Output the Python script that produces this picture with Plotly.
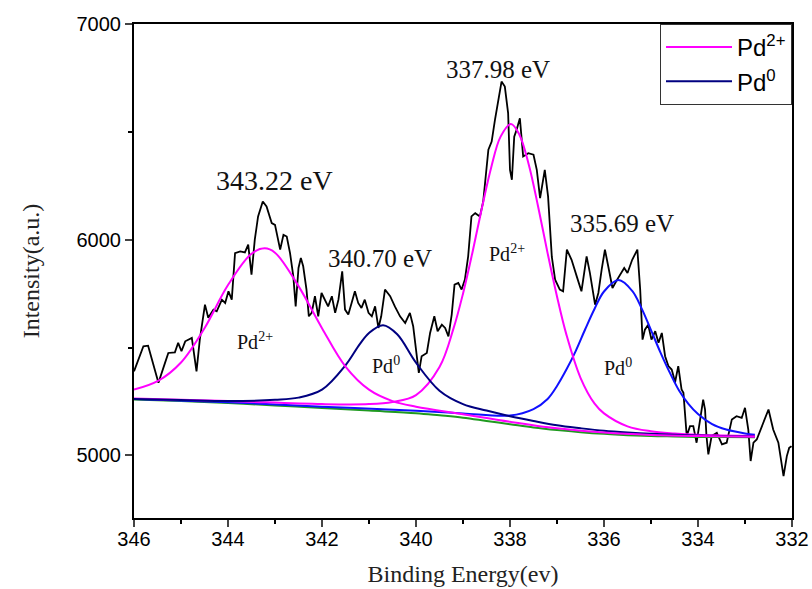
import plotly.graph_objects as go

# ---- measured spectrum (binding energy, intensity) ----
E_data = [346.00, 345.80, 345.70, 345.48, 345.34, 345.27, 345.13, 345.06, 344.99, 344.91,
          344.77, 344.67, 344.60, 344.49, 344.42, 344.31, 344.24, 344.13, 344.06, 343.99,
          343.92, 343.85, 343.74, 343.64, 343.57, 343.50, 343.43, 343.36, 343.26, 343.18,
          343.07, 343.00, 342.89, 342.82, 342.75, 342.68, 342.61, 342.56, 342.50, 342.45,
          342.40, 342.33, 342.28, 342.22, 342.15, 342.08, 342.01, 341.94, 341.87, 341.79,
          341.72, 341.65, 341.57, 341.51, 341.44, 341.37, 341.30, 341.23, 341.16, 341.09,
          341.01, 340.94, 340.87, 340.80, 340.74, 340.66, 340.55, 340.45, 340.34, 340.23,
          340.13, 340.06, 339.99, 339.94, 339.88, 339.77, 339.70, 339.61, 339.54, 339.45,
          339.38, 339.31, 339.24, 339.18, 339.10, 339.03, 338.96, 338.89, 338.82, 338.74,
          338.64, 338.57, 338.46, 338.39, 338.32, 338.25, 338.18, 338.11, 338.04, 338.00,
          337.96, 337.91, 337.86, 337.79, 337.72, 337.61, 337.50, 337.43, 337.36, 337.26,
          337.19, 337.11, 337.04, 336.94, 336.87, 336.79, 336.69, 336.58, 336.48, 336.37,
          336.30, 336.19, 336.12, 336.05, 335.98, 335.91, 335.82, 335.72, 335.64, 335.57,
          335.50, 335.40, 335.29, 335.23, 335.18, 335.13, 335.06, 334.99, 334.91, 334.84,
          334.77, 334.70, 334.63, 334.56, 334.52, 334.49, 334.42, 334.35, 334.31, 334.28,
          334.24, 334.17, 334.10, 334.03, 333.96, 333.89, 333.85, 333.82, 333.78, 333.71,
          333.60, 333.49, 333.39, 333.32, 333.28, 333.18, 333.07, 333.00, 332.93, 332.88,
          332.82, 332.75, 332.64, 332.50, 332.40, 332.29, 332.18, 332.11, 332.06, 332.01]
I_data = [5390, 5506, 5509, 5337, 5429, 5475, 5478, 5522, 5483, 5529,
          5545, 5390, 5537, 5699, 5638, 5676, 5668, 5722, 5707, 5761,
          5722, 5938, 5946, 5941, 5977, 5838, 6000, 6108, 6177, 6154,
          6077, 6069, 5954, 6023, 6015, 5938, 5830, 5691, 5869, 5915,
          5877, 5769, 5645, 5661, 5738, 5645, 5753, 5722, 5691, 5738,
          5661, 5722, 5853, 5676, 5653, 5707, 5761, 5707, 5684, 5722,
          5661, 5645, 5691, 5591, 5645, 5769, 5738, 5691, 5645, 5614,
          5661, 5599, 5460, 5383, 5460, 5475, 5568, 5645, 5576, 5606,
          5591, 5552, 5653, 5792, 5800, 5769, 5815, 5923, 6108, 6123,
          6108, 6177, 6417, 6455, 6556, 6640, 6733, 6710, 6587, 6324,
          6278, 6478, 6509, 6563, 6386, 6401, 6394, 6324, 6193, 6324,
          6201, 5920, 5815, 5769, 5761, 5954, 5907, 5830, 5761, 5923,
          5846, 5699, 5753, 5861, 5954, 5877, 5776, 5815, 5846, 5869,
          5846, 5907, 5954, 5769, 5537, 5583, 5606, 5537, 5576, 5522,
          5568, 5460, 5414, 5398, 5367, 5337, 5414, 5306, 5290, 5199,
          5090, 5136, 5136, 5059, 5167, 5259, 5213, 5090, 5005, 5090,
          5105, 5051, 5059, 5120, 5167, 5182, 5174, 5221, 5120, 4974,
          5059, 5074, 5136, 5213, 5120, 5059, 4904, 4997, 5035, 5043]

# ---- background ----
E_bg = [346.0, 345.0, 344.0, 343.0, 342.0, 341.0, 340.0, 339.5, 339.0, 338.5, 338.0,
        337.5, 337.0, 336.5, 336.0, 335.5, 335.0, 334.5, 334.0, 333.5, 332.79]
I_bg = [5259, 5252, 5243, 5232, 5220, 5208, 5196, 5186, 5175, 5160, 5145,
        5130, 5118, 5108, 5100, 5094, 5090, 5088, 5086, 5085, 5084]

# ---- Pd2+ component at 343.22 eV ----
E_p1 = [346.0, 345.5, 345.0, 344.5, 344.0, 343.5, 343.22, 343.0, 342.5, 342.0, 341.5,
        341.0, 340.5, 340.0, 339.0, 338.0, 337.0, 336.0, 335.0, 334.0, 332.79]
I_p1 = [5305, 5344, 5431, 5590, 5790, 5935, 5960, 5940, 5785, 5590, 5412,
        5305, 5252, 5226, 5191, 5156, 5126, 5106, 5095, 5090, 5087]

# ---- Pd0 component at 340.70 eV ----
E_p2 = [346.0, 345.0, 344.0, 343.0, 342.5, 342.0, 341.5, 341.2, 341.0, 340.7, 340.4,
        340.0, 339.5, 339.0, 338.5, 338.0, 337.5, 337.0, 336.5, 336.0, 335.5, 335.0,
        334.0, 332.79]
I_p2 = [5262, 5257, 5252, 5258, 5268, 5305, 5418, 5515, 5568, 5604, 5562,
        5430, 5300, 5238, 5208, 5182, 5160, 5140, 5126, 5114, 5106, 5100,
        5092, 5088]

# ---- Pd2+ component at 337.98 eV ----
E_p3 = [346.0, 344.0, 342.0, 341.0, 340.5, 340.0, 339.5, 339.2, 339.0, 338.8, 338.6,
        338.4, 338.2, 337.98, 337.8, 337.6, 337.4, 337.2, 337.0, 336.8, 336.5, 336.2,
        336.0, 335.5, 335.0, 334.5, 334.0, 333.5, 332.79]
I_p3 = [5264, 5252, 5238, 5238, 5248, 5280, 5410, 5590, 5750, 5940, 6145,
        6335, 6478, 6536, 6487, 6348, 6152, 5938, 5737, 5560, 5360, 5240,
        5195, 5135, 5112, 5102, 5096, 5093, 5090]

# ---- Pd0 component at 335.69 eV ----
E_p4 = [346.0, 344.0, 342.0, 340.0, 339.0, 338.0, 337.5, 337.2, 337.0, 336.8, 336.6,
        336.4, 336.2, 336.0, 335.69, 335.4, 335.2, 335.0, 334.8, 334.6, 334.4, 334.2,
        334.0, 333.7, 333.4, 333.0, 332.79]
I_p4 = [5262, 5247, 5226, 5207, 5195, 5185, 5215, 5262, 5322, 5398, 5485,
        5585, 5680, 5760, 5813, 5763, 5682, 5581, 5478, 5384, 5300, 5238,
        5192, 5145, 5120, 5102, 5096]

MAGENTA = "#ff00ff"
NAVY = "#000080"
BLUE = "#1010ff"
GREEN = "#1f9a1f"

fig = go.Figure()
fig.add_trace(go.Scatter(x=E_data, y=I_data, mode="lines", line=dict(color="black", width=1.8),
                         showlegend=False))
fig.add_trace(go.Scatter(x=E_bg, y=I_bg, mode="lines", line=dict(color=GREEN, width=2, shape="spline"),
                         showlegend=False))
fig.add_trace(go.Scatter(x=E_p4, y=I_p4, mode="lines", line=dict(color=BLUE, width=2, shape="spline"),
                         showlegend=False))
fig.add_trace(go.Scatter(x=E_p3, y=I_p3, mode="lines", line=dict(color=MAGENTA, width=2, shape="spline"),
                         showlegend=False))
fig.add_trace(go.Scatter(x=E_p2, y=I_p2, mode="lines", line=dict(color=NAVY, width=2, shape="spline"),
                         name="Pd<sup>0</sup>", legendrank=2))
fig.add_trace(go.Scatter(x=E_p1, y=I_p1, mode="lines", line=dict(color=MAGENTA, width=2, shape="spline"),
                         name="Pd<sup>2+</sup>", legendrank=1))

serif = "Liberation Serif, Times New Roman, serif"
sans = "Liberation Sans, Arial, sans-serif"

ann = []
def label(x, y, text, size):
    ann.append(dict(x=x, y=y, xref="x", yref="y", text=text, showarrow=False,
                    font=dict(family=serif, size=size, color="#111111")))

label(343.02, 6273, "343.22 eV", 28)
label(340.77, 5912, "340.70 eV", 25)
label(338.26, 6787, "337.98 eV", 25)
label(335.62, 6074, "335.69 eV", 25)
label(343.43, 5532, "Pd<sup>2+</sup>", 20)
label(340.64, 5417, "Pd<sup>0</sup>", 20)
label(338.06, 5940, "Pd<sup>2+</sup>", 20)
label(335.70, 5412, "Pd<sup>0</sup>", 20)

fig.update_layout(
    width=812, height=589,
    margin=dict(l=134, r=20, t=24, b=71),
    paper_bgcolor="white", plot_bgcolor="white",
    annotations=ann,
    showlegend=True,
    legend=dict(x=1, y=1, xanchor="right", yanchor="top", bgcolor="white",
                bordercolor="#333333", borderwidth=1, itemwidth=66,
                font=dict(family=sans, size=24, color="black"), tracegroupgap=0),
    xaxis=dict(range=[346, 332], dtick=2, tick0=332, ticks="outside", ticklen=7, tickwidth=1.5,
               showline=True, linewidth=2, linecolor="black", mirror=True, showgrid=False,
               zeroline=False, automargin=False, tickfont=dict(family=sans, size=20, color="black"),
               ticklabelstandoff=-5,
               minor=dict(dtick=1, ticks="outside", ticklen=4, tickwidth=1.5, tickcolor="black"),
               title=dict(text="Binding Energy(ev)", font=dict(family=serif, size=24, color="#222222"),
                          standoff=16)),
    yaxis=dict(range=[4710, 7000], dtick=1000, tick0=5000, ticks="outside", ticklen=7, tickwidth=1.5,
               showline=True, linewidth=2, linecolor="black", mirror=True, showgrid=False,
               zeroline=False, automargin=False, tickfont=dict(family=sans, size=20, color="black"),
               minor=dict(dtick=500, ticks="outside", ticklen=4, tickwidth=1.5, tickcolor="black"),
               title=dict(text="Intensity(a.u.)", font=dict(family=serif, size=24, color="#222222"),
                          standoff=30)),
)

fig.write_html("out.html")
